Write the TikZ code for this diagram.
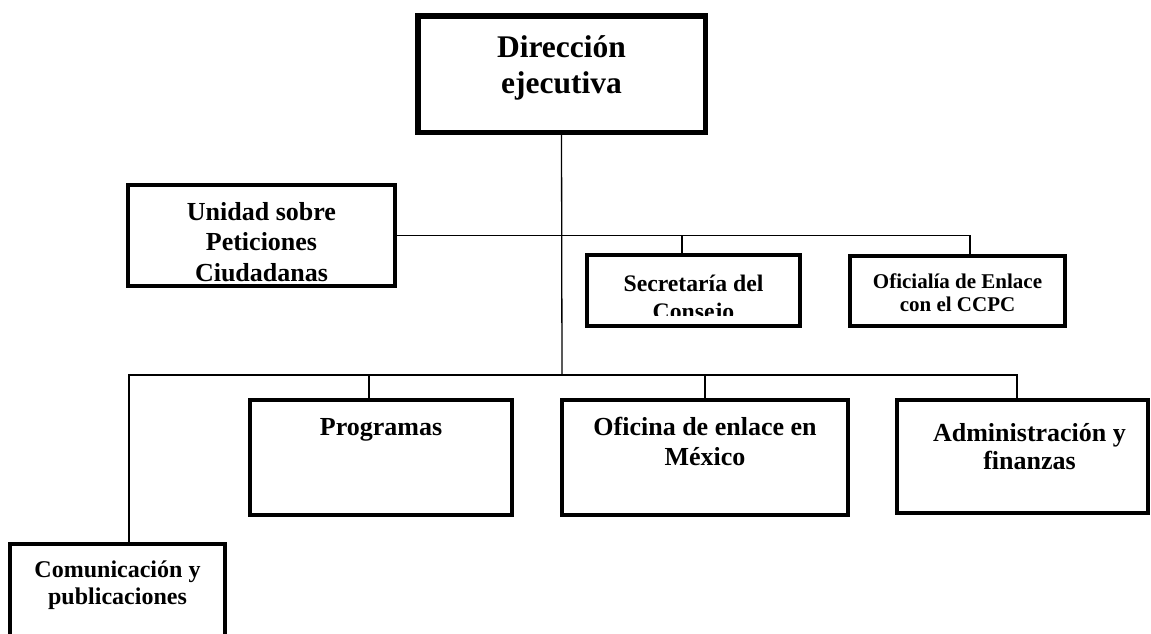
\documentclass[tikz,border=0pt]{standalone}
\usepackage{fontspec}
\setmainfont{Liberation Serif}
\usetikzlibrary{positioning}
\begin{document}
\begin{tikzpicture}[x=1pt, y=-1pt,
  box/.style={draw, line width=4pt, inner sep=0pt, outer sep=0pt},
  txt/.style={inner sep=0pt, align=center},
  link/.style={line width=1.3pt},
  ]
  \useasboundingbox (0,0) rectangle (1151,633);
  \clip (0,0) rectangle (1151,633);
  % boxes
  \node[box, line width=5.5pt, minimum width=287.5pt, minimum height=116.5pt] (dir) at (561.5,74) {};
  \node[box, minimum width=267pt, minimum height=101pt] (uni) at (261.5,235.5) {};
  \node[box, minimum width=213pt, minimum height=71pt] (sec) at (693.5,290.5) {};
  \node[box, minimum width=215pt, minimum height=70pt] (ofi) at (957.5,291) {};
  \node[box, minimum width=262pt, minimum height=115pt] (pro) at (381,457.5) {};
  \node[box, minimum width=286pt, minimum height=115pt] (mex) at (705,457.5) {};
  \node[box, minimum width=251pt, minimum height=113pt] (adm) at (1022.5,456.5) {};
  \node[box, minimum width=215pt, minimum height=114pt] (com) at (117.5,601) {};
  % texts
  \node[txt, font=\fontsize{31.5}{36}\selectfont\bfseries, below=20pt of dir.north] (dirtext) {Dirección\\ejecutiva};
  \node[txt, font=\fontsize{26}{30.5}\selectfont\bfseries, below=17pt of uni.north] (unitext) {Unidad sobre\\Peticiones\\Ciudadanas};
  \begin{scope}
    \clip (sec.north west) rectangle ([yshift=11pt]sec.south east);
    \node[txt, font=\fontsize{23.7}{28}\selectfont\bfseries, below=20pt of sec.north] (sectext) {Secretaría del\\Consejo};
  \end{scope}
  \node[txt, font=\fontsize{21}{23}\selectfont\bfseries, below=18pt of ofi.north] (ofitext) {Oficialía de Enlace\\con el CCPC};
  \node[txt, font=\fontsize{26}{30}\selectfont\bfseries, below=18pt of pro.north] (protext) {Programas};
  \node[txt, font=\fontsize{26}{30}\selectfont\bfseries, below=17pt of mex.north] (mextext) {Oficina de enlace en\\México};
  \node[txt, font=\fontsize{26}{28.5}\selectfont\bfseries, below=23pt of adm.north, xshift=7pt] (admtext) {Administración y\\finanzas};
  \node[txt, font=\fontsize{24}{27}\selectfont\bfseries, below=17pt of com.north] (comtext) {Comunicación y\\publicaciones};
  % connectors
  \coordinate (low) at (562,375);
  \draw[link] (dir.south) -- (low);
  \draw[link] (uni.east) -| ([xshift=12.5pt]ofi.north);
  \draw[link] ([xshift=-11.5pt]sec.north) -- ([xshift=-11.5pt]sec.north |- uni.east);
  \draw[link] ([xshift=11.5pt]com.north) |- (low) -| ([xshift=-5.5pt]adm.north);
  \draw[link] ([xshift=-12pt]pro.north) -- ([xshift=-12pt]pro.north |- low);
  \draw[link] (mex.north) -- (mex.north |- low);
\end{tikzpicture}
\end{document}
